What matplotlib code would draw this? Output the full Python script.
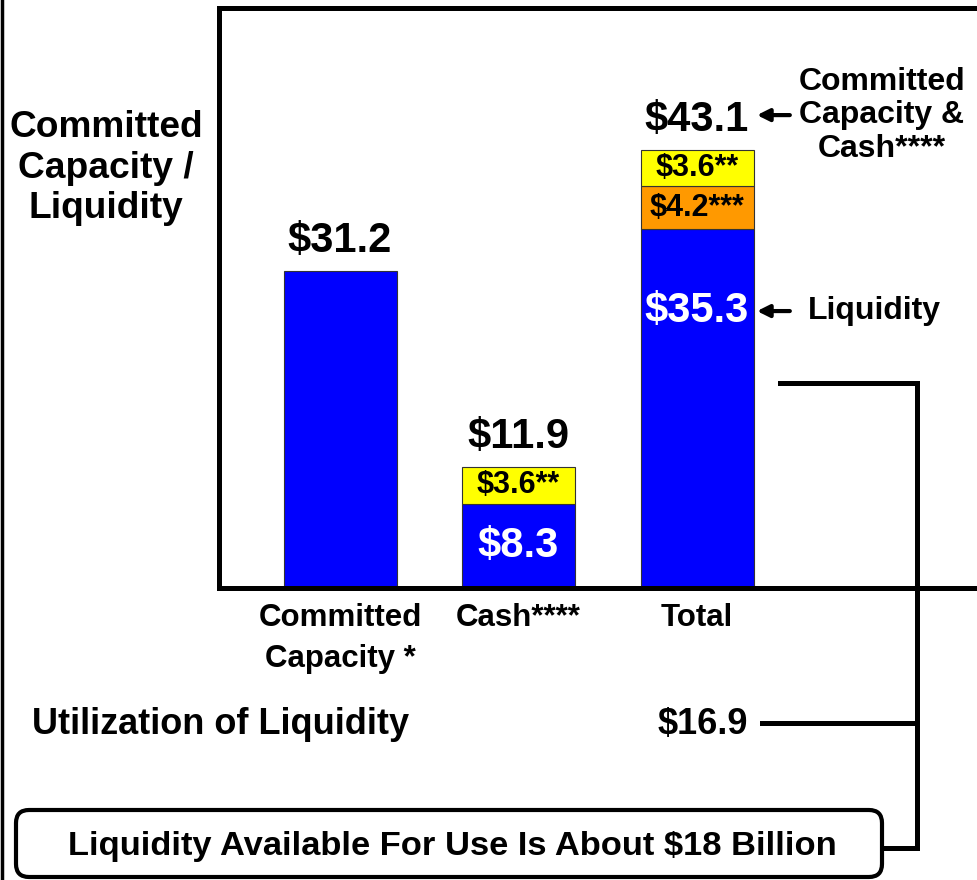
import matplotlib
matplotlib.use('Agg')
import matplotlib.pyplot as plt
from matplotlib.patches import FancyBboxPatch
from matplotlib.lines import Line2D
from matplotlib.transforms import offset_copy

plt.rcParams['font.family'] = ['Liberation Sans', 'DejaVu Sans']
plt.rcParams['font.weight'] = 'bold'

# data
categories = ['Committed\nCapacity *', 'Cash****', 'Total']
blue_vals = [31.2, 8.3, 35.3]
orange_vals = [0.0, 0.0, 4.2]
yellow_vals = [0.0, 3.6, 3.6]
totals = [31.2, 11.9, 43.1]
blue_labels = ['', '$8.3', '$35.3']
orange_labels = ['', '', '$4.2***']
yellow_labels = ['', '$3.6**', '$3.6**']
utilization = 16.9
available = 18

W, H = 977, 880
fig = plt.figure(figsize=(W / 100, H / 100), dpi=100)


def fx(x):
    return x / W


def fy(y):
    return 1 - y / H


ax = fig.add_axes([fx(219), fy(588), fx(996) - fx(219), fy(8.5) - fy(588)])
xs = list(range(len(categories)))
bw = 0.633
blue = '#0000ff'
orange = '#ff9900'
yellow = '#ffff00'
edge = dict(edgecolor='#333333', linewidth=0.8)

ax.bar(xs, blue_vals, width=bw, color=blue, **edge)
mid = [b + o for b, o in zip(blue_vals, orange_vals)]
for i in xs:
    if orange_vals[i] > 0:
        ax.bar(i, orange_vals[i], bottom=blue_vals[i], width=bw, color=orange, **edge)
    if yellow_vals[i] > 0:
        ax.bar(i, yellow_vals[i], bottom=mid[i], width=bw, color=yellow, **edge)

ax.set_xlim(-0.678, 3.675)
ax.set_ylim(0, 57)
ax.set_yticks([])
ax.set_xticks(xs, categories)
ax.tick_params(axis='x', length=0, pad=11, labelsize=22.5)
for lab in ax.get_xticklabels():
    lab.set_fontweight('bold')
    lab.set_linespacing(1.45)
ax.spines['right'].set_visible(False)
for s in ['left', 'top', 'bottom']:
    ax.spines[s].set_linewidth(3.6)
    ax.spines[s].set_capstyle('projecting')

# labels in the segments
for i in xs:
    if yellow_labels[i]:
        ax.text(i, mid[i] + yellow_vals[i] / 2, yellow_labels[i], ha='center', va='center',
                fontsize=22, fontweight='bold')
    if orange_labels[i]:
        ax.text(i, blue_vals[i] + orange_vals[i] / 2, orange_labels[i], ha='center', va='center',
                fontsize=22, fontweight='bold')
ax.text(1, blue_vals[1] / 2, blue_labels[1], ha='center', va='center', color='white',
        fontsize=30, fontweight='bold')
liq_tr = offset_copy(ax.transData, fig=fig, y=-59, units='points')
ax.text(2, blue_vals[2], blue_labels[2], transform=liq_tr, ha='center', va='center',
        color='white', fontsize=30, fontweight='bold')

# totals on top
for i in xs:
    ax.annotate(f'${totals[i]:.1f}', (i, totals[i]), xytext=(0, 7), textcoords='offset points',
                ha='center', va='bottom', fontsize=30, fontweight='bold')

# arrows to the side notes
arrow = dict(arrowstyle='-|>', color='black', lw=3, mutation_scale=18, shrinkA=0, shrinkB=0)
top_tr = offset_copy(ax.transData, fig=fig, y=25, units='points')
ax.annotate('', xy=(2.336, totals[2]), xycoords=top_tr, xytext=(2.52, totals[2]),
            textcoords=top_tr, arrowprops=arrow)
ax.text(3.036, totals[2], 'Committed\nCapacity &\nCash****', transform=top_tr, ha='center',
        va='center', fontsize=23, fontweight='bold', linespacing=1.15, clip_on=False)
ax.annotate('', xy=(2.336, blue_vals[2]), xycoords=liq_tr, xytext=(2.52, blue_vals[2]),
            textcoords=liq_tr, arrowprops=arrow)
ax.text(2.62, blue_vals[2], 'Liquidity', transform=liq_tr, ha='left', va='center',
        fontsize=23, fontweight='bold')

# left title
fig.text(fx(106), fy(168), 'Committed\nCapacity /\nLiquidity', ha='center', va='center',
         fontsize=26.7, fontweight='bold', linespacing=1.2)

# utilization row
fig.text(fx(32), fy(724), 'Utilization of Liquidity', ha='left', va='center',
         fontsize=26, fontweight='bold')
fig.text(fx(748), fy(724), f'${utilization}', ha='right', va='center',
         fontsize=26, fontweight='bold')

# bracket lines
lw = 3.6
fig.add_artist(Line2D([fx(780), fx(917), fx(917), fx(884)], [fy(383), fy(383), fy(848), fy(848)],
                      color='black', lw=lw, solid_joinstyle='miter'))
fig.add_artist(Line2D([fx(762), fx(917)], [fy(723), fy(723)], color='black', lw=lw))

# bottom box
box = FancyBboxPatch((0.26, 0.13), 8.46, 0.47, boxstyle='round,pad=0.1,rounding_size=0.13',
                     transform=fig.dpi_scale_trans, facecolor='white', edgecolor='black', lw=3)
fig.add_artist(box)
fig.text(fx(452), fy(846), f'Liquidity Available For Use Is About ${available} Billion',
         ha='center', va='center', fontsize=24.8, fontweight='bold')

# left frame line
fig.add_artist(Line2D([fx(1.5), fx(1.5)], [0, 1], color='black', lw=2.5))

fig.savefig('out.png', dpi=100)
